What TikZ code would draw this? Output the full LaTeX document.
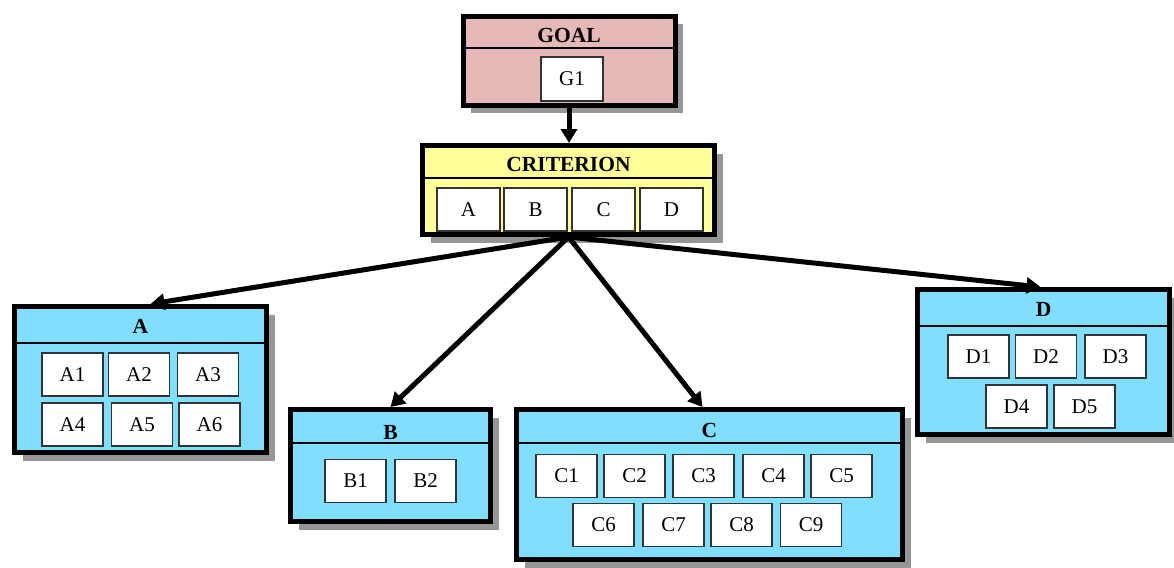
\documentclass[tikz,border=0pt]{standalone}
\usepackage{fontspec}
\setmainfont{Liberation Serif}
\usetikzlibrary{arrows.meta,calc,shadows}
\definecolor{goalpink}{RGB}{230,184,183}
\definecolor{crityellow}{RGB}{255,255,153}
\definecolor{groupblue}{RGB}{128,222,255}
\definecolor{shadegray}{RGB}{150,150,150}
\tikzset{
  panel/.style={draw=black, line width=5pt, rectangle, inner sep=0pt,
    drop shadow={shadow xshift=8pt, shadow yshift=-8pt, fill=shadegray, opacity=1}},
  title/.style={font=\fontsize{21.5}{24}\selectfont\bfseries, inner sep=0pt},
  hdr/.style={draw=black, line width=1.6pt},
  cell/.style={draw=black!80, fill=white, line width=1.2pt, minimum width=61pt, minimum height=43pt,
    inner sep=0pt, font=\fontsize{21}{23}\selectfont},
  arr/.style={line width=5pt, -{Triangle[length=14pt,width=16pt]}},
}
\begin{document}
\begin{tikzpicture}[x=1pt,y=-1pt]
\useasboundingbox (0,0) rectangle (1174,567);
% goal
\node[panel, fill=goalpink, minimum width=212pt, minimum height=89pt] (goal) at (569,61) {};
\node[title] (goaltitle) at ($(goal.north)+(0,21)$) {GOAL};
\draw[hdr] ($(goal.north west)+(0,34)$) -- ($(goal.north east)+(0,34)$);
\node[cell, minimum width=62pt, minimum height=44pt] (cG1) at (572,79) {G1};
% criterion
\node[panel, fill=crityellow, minimum width=292pt, minimum height=89pt] (crit) at (568.5,190) {};
\node[title] (crittitle) at ($(crit.north)+(0,21)$) {CRITERION};
\draw[hdr] ($(crit.north west)+(0,35)$) -- ($(crit.north east)+(0,35)$);
\foreach \n/\x in {A/468.5,B/535.5,C/603.5,D/671.5}
  \node[cell, minimum width=63pt] (k\n) at (\x,209.5) {\n};
% groups
\node[panel, fill=groupblue, minimum width=252pt, minimum height=146pt] (boxA) at (140.5,379.5) {};
\node[title] (titleA) at ($(boxA.north)+(0,22)$) {A};
\draw[hdr] ($(boxA.north west)+(0,39)$) -- ($(boxA.north east)+(0,39)$);
\node[panel, fill=groupblue, minimum width=200pt, minimum height=112pt] (boxB) at (390.5,465.5) {};
\node[title] (titleB) at ($(boxB.north)+(0,25)$) {B};
\draw[hdr] ($(boxB.north west)+(0,36)$) -- ($(boxB.north east)+(0,36)$);
\node[panel, fill=groupblue, minimum width=386pt, minimum height=150pt] (boxC) at (709.5,484.5) {};
\node[title] (titleC) at ($(boxC.north)+(0,23)$) {C};
\draw[hdr] ($(boxC.north west)+(0,36)$) -- ($(boxC.north east)+(0,36)$);
\node[panel, fill=groupblue, minimum width=252pt, minimum height=145pt] (boxD) at (1043.5,362) {};
\node[title] (titleD) at ($(boxD.north)+(0,22)$) {D};
\draw[hdr] ($(boxD.north west)+(0,39)$) -- ($(boxD.north east)+(0,39)$);
% cells
\foreach \n/\x/\y in {A1/72.5/374.5,A2/139/374.5,A3/208/374.5,A4/72.5/424.5,A5/142/424.5,A6/209.5/424.5,
  B1/355.5/481,B2/425.5/481,
  C1/566.5/476,C2/634.5/476,C3/703.5/476,C4/773.5/476,C5/841.5/476,
  C6/603.5/525,C7/673.5/525,C8/741.5/525,C9/811/525,
  D1/978.5/356.5,D2/1046/356.5,D3/1115.5/356.5,D4/1016.5/406.5,D5/1084.5/406.5}
  \node[cell] (c\n) at (\x,\y) {\n};
% arrows
\draw[arr] (goal.south) -- (goal.south |- crit.north);
\draw[arr] (crit.south) -- ($(boxA.north)+(10,0)$);
\draw[arr] (crit.south) -- (boxB.north);
\draw[arr] (crit.south) -- ($(boxC.north)+(-7,0)$);
\draw[arr] (crit.south) -- ($(boxD.north)+(-3,0)$);
\end{tikzpicture}
\end{document}
